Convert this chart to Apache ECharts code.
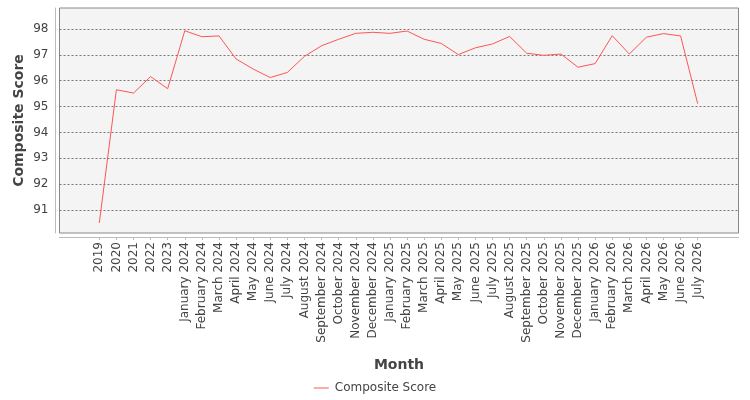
<!DOCTYPE html>
<html>
<head>
<meta charset="utf-8">
<script src="https://cdn.jsdelivr.net/npm/echarts@6/dist/echarts.min.js"></script>
<style>
  html, body { margin: 0; padding: 0; background: #fff; }
  #chart { width: 750px; height: 400px; }
</style>
</head>
<body>
<div id="chart"></div>
<script>
// months on the category axis
const MONTHS = [
  "2019", "2020", "2021", "2022", "2023",
  "January 2024", "February 2024", "March 2024", "April 2024", "May 2024", "June 2024",
  "July 2024", "August 2024", "September 2024", "October 2024", "November 2024", "December 2024",
  "January 2025", "February 2025", "March 2025", "April 2025", "May 2025", "June 2025",
  "July 2025", "August 2025", "September 2025", "October 2025", "November 2025", "December 2025",
  "January 2026", "February 2026", "March 2026", "April 2026", "May 2026", "June 2026", "July 2026",
];

const COMPOSITE_SCORE = [
  90.50, 95.65, 95.52, 96.16, 95.69,
  97.93, 97.70, 97.73, 96.84, 96.45, 96.12,
  96.32, 96.94, 97.35, 97.60, 97.83, 97.87,
  97.83, 97.92, 97.60, 97.44, 97.01, 97.27,
  97.42, 97.71, 97.06, 96.98, 97.03, 96.52,
  96.66, 97.74, 97.03, 97.68, 97.82, 97.73, 95.11,
];

const Y_MIN = 90.11;
const Y_MAX = 98.81;

const FONT = "DejaVu Sans";
const TEXT = "#444";

const chart = echarts.init(document.getElementById("chart"));

chart.setOption({
  animation: false,
  backgroundColor: "#fff",
  textStyle: { fontFamily: FONT },
  grid: [
    // plot box
    {
      left: 59.5, top: 8, width: 679, height: 225,
      show: true, backgroundColor: "#f4f4f4", borderColor: "#888", borderWidth: 1,
    },
    // data area (category margins like the original)
    { left: 99.3, right: 52.3, top: 8, height: 225 },
  ],
  xAxis: [
    {
      gridIndex: 0, type: "category", data: [""],
      offset: 4,
      axisLine: { show: true, lineStyle: { color: "#bbb" } },
      axisTick: { show: false }, axisLabel: { show: false },
      name: "Month", nameLocation: "middle", nameGap: 121,
      nameTextStyle: { fontFamily: FONT, fontSize: 14, fontWeight: "bold", color: TEXT },
    },
    {
      gridIndex: 1, type: "category", data: MONTHS, boundaryGap: false,
      offset: 4,
      axisLine: { show: false },
      axisTick: { show: true, length: 3, alignWithLabel: true, lineStyle: { color: "#bbb" } },
      axisLabel: { rotate: 90, fontFamily: FONT, fontSize: 12, color: TEXT, margin: 5, interval: 0 },
      splitLine: { show: false },
    },
  ],
  yAxis: [
    {
      gridIndex: 0, type: "value", min: Y_MIN, max: Y_MAX, splitNumber: 9,
      offset: 4,
      axisLine: { show: true, lineStyle: { color: "#bbb" } },
      axisTick: { show: false },
      axisLabel: { fontFamily: FONT, fontSize: 12, color: TEXT, margin: 7, showMinLabel: false, showMaxLabel: false },
      splitLine: {
        show: true, showMinLine: false, showMaxLine: false,
        lineStyle: { color: "#777", type: [2, 2], width: 1 },
      },
      name: "Composite Score", nameLocation: "middle", nameGap: 29, nameMoveOverlap: false,
      nameTextStyle: { fontFamily: FONT, fontSize: 14, fontWeight: "bold", color: TEXT },
    },
    {
      gridIndex: 1, type: "value", min: Y_MIN, max: Y_MAX, show: false,
      splitLine: { show: false },
    },
  ],
  legend: {
    top: 377, left: "center",
    icon: "rect", itemWidth: 15, itemHeight: 1, itemGap: 4,
    textStyle: { fontFamily: FONT, fontSize: 12, color: TEXT, padding: [0, 0, 0, 1] },
    data: ["Composite Score"],
  },
  series: [
    {
      name: "Composite Score",
      type: "line",
      xAxisIndex: 1, yAxisIndex: 1,
      data: COMPOSITE_SCORE,
      symbol: "none",
      lineStyle: { color: "#ff5555", width: 1 },
      itemStyle: { color: "#ff5555" },
    },
  ],
});
</script>
</body>
</html>
